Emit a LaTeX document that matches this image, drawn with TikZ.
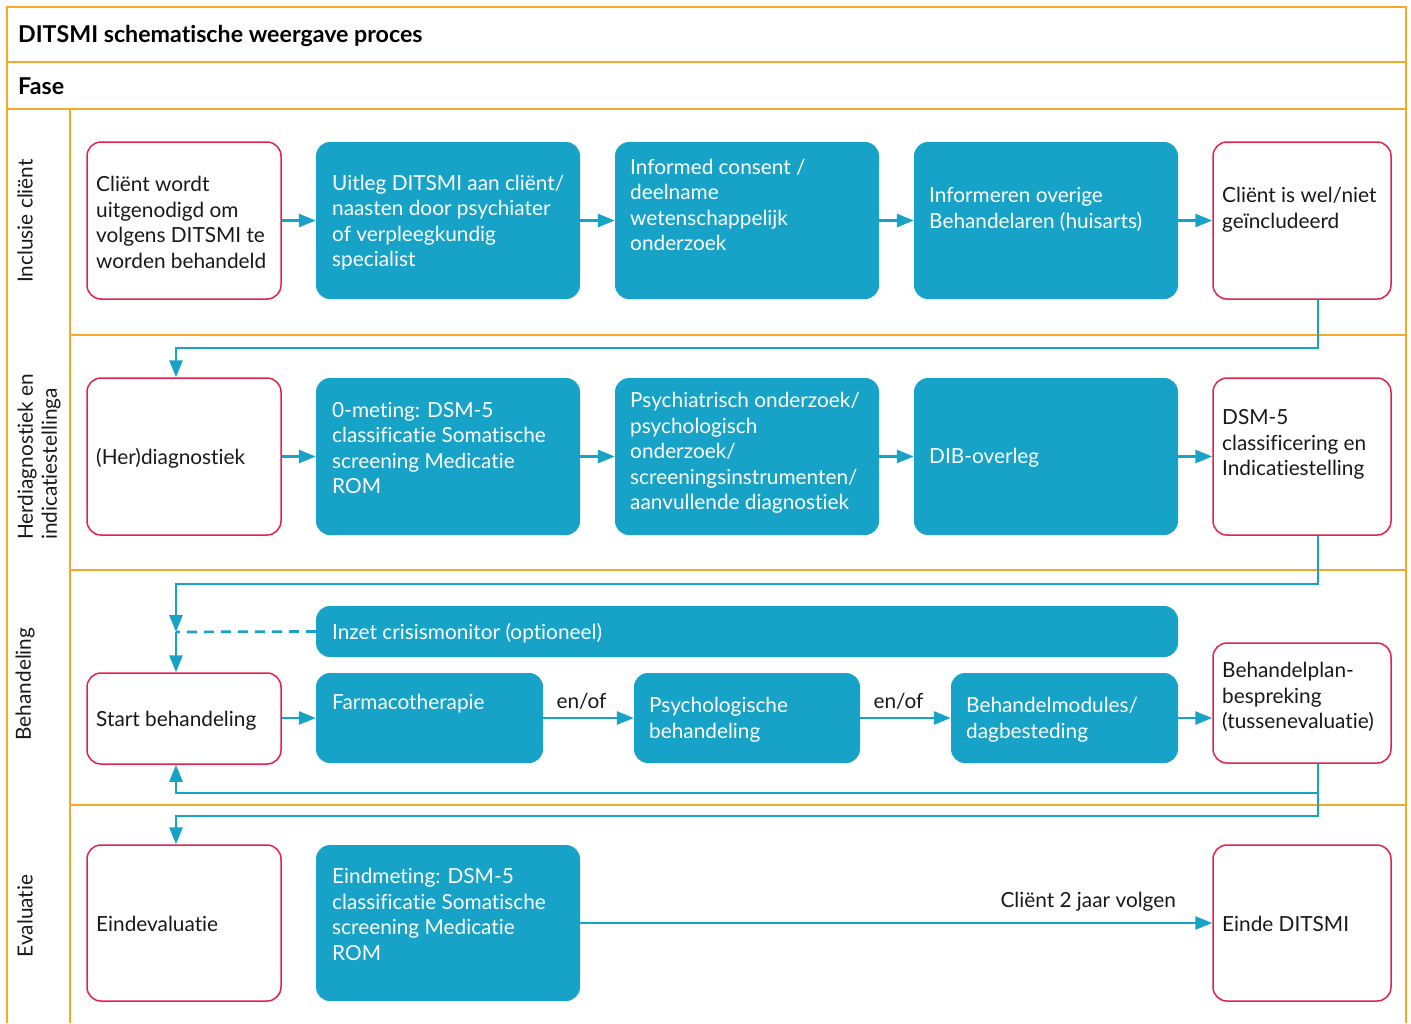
\documentclass[tikz,border=0pt]{standalone}
\usepackage{fontspec}
\setmainfont{Lato}[Ligatures={NoCommon}]
\usetikzlibrary{arrows.meta}
\definecolor{orl}{RGB}{246,168,40}
\definecolor{bl}{RGB}{23,162,200}
\definecolor{rd}{RGB}{228,32,76}
\definecolor{tx}{RGB}{25,25,25}
\begin{document}
\begin{tikzpicture}[x=1pt,y=-1pt,
 redbox/.style={draw=rd, line width=1.5pt, rounded corners=14pt, fill=white, inner sep=0pt},
 bluebox/.style={fill=bl, rounded corners=14pt, inner sep=0pt},
 txt/.style={font=\fontsize{20.8}{25.5}\selectfont, align=left, anchor=west, inner sep=0pt, text=tx},
 wtxt/.style={txt, text=white},
 conn/.style={draw=bl, line width=2.7pt, -{Triangle[length=17pt,width=13pt]}},
 cline/.style={draw=bl, line width=2.7pt},
 frame/.style={draw=orl, line width=1.3pt},
 phase/.style={font=\fontsize{20.8}{24}\selectfont, rotate=90, inner sep=0pt, text=tx, align=left},
 head/.style={font=\bfseries\fontsize{23.2}{26}\selectfont, anchor=west, inner sep=0pt, text=black}]
\useasboundingbox (0,0) rectangle (1411,1023);
% frame
\draw[frame] (7,1023) -- (7,7) -- (1406,7) -- (1406,1023);
\draw[frame] (7,62) -- (1406,62);
\draw[frame] (7,109) -- (1406,109);
\draw[frame] (70,109) -- (70,1023);
\draw[frame] (70,335) -- (1406,335);
\draw[frame] (70,570) -- (1406,570);
\draw[frame] (70,805) -- (1406,805);
\node[head] (title) at (18,36) {DITSMI schematische weergave proces};
\node[head] (fase) at (18,86) {Fase};
% phase labels
\node[phase] (p1) at (25,221) {Inclusie cliënt};
\node[phase] (p2) at (39,457) {Herdiagnostiek en\\indicatiestellinga};
\node[phase] (p3l) at (25,684) {Behandeling};
\node[phase] (p4) at (25,916) {Evaluatie};
% row 1
\node[redbox, minimum width=194pt, minimum height=157pt] (a1) at (184,220.5) {};
\node[bluebox, minimum width=264pt, minimum height=157pt] (b1) at (448,220.5) {};
\node[bluebox, minimum width=264pt, minimum height=157pt] (c1) at (747,220.5) {};
\node[bluebox, minimum width=264pt, minimum height=157pt] (d1) at (1046,220.5) {};
\node[redbox, minimum width=178pt, minimum height=157pt] (e1) at (1302,220.5) {};
\node[txt] (ta1) at (96,222.5) {Cliënt wordt\\uitgenodigd om\\volgens DITSMI te\\worden behandeld};
\node[wtxt] (tb1) at (332,222.5) {Uitleg DITSMI aan cliënt/\\naasten door psychiater\\of verpleegkundig\\specialist};
\node[wtxt] (tc1) at (630,205) {Informed consent /\\deelname\\wetenschappelijk\\onderzoek};
\node[wtxt] (td1) at (929,209.5) {Informeren overige\\Behandelaren (huisarts)};
\node[txt] (te1) at (1222,209.5) {Cliënt is wel/niet\\geïncludeerd};
% row 2
\node[redbox, minimum width=194pt, minimum height=157pt] (a2) at (184,456.5) {};
\node[bluebox, minimum width=264pt, minimum height=157pt] (b2) at (448,456.5) {};
\node[bluebox, minimum width=264pt, minimum height=157pt] (c2) at (747,456.5) {};
\node[bluebox, minimum width=264pt, minimum height=157pt] (d2) at (1046,456.5) {};
\node[redbox, minimum width=178pt, minimum height=157pt] (e2) at (1302,456.5) {};
\node[txt] (ta2) at (96,458) {(Her)diagnostiek};
\node[wtxt] (tb2) at (332,448) {0-meting: DSM-5\\classificatie Somatische\\screening Medicatie\\ROM};
\node[wtxt] (tc2) at (630,453) {Psychiatrisch onderzoek/\\psychologisch\\onderzoek/\\screeningsinstrumenten/\\aanvullende diagnostiek};
\node[wtxt] (td2) at (929,458) {DIB-overleg};
\node[txt] (te2) at (1222,444.5) {DSM-5\\classificering en\\Indicatiestelling};
% row 3
\node[bluebox, minimum width=862pt, minimum height=51pt] (cr) at (747,631.5) {};
\node[wtxt] (tcr) at (332,633) {Inzet crisismonitor (optioneel)};
\node[redbox, minimum width=194pt, minimum height=91pt] (s3) at (184,718.5) {};
\node[bluebox, minimum width=227pt, minimum height=90pt] (f3) at (429.5,718) {};
\node[bluebox, minimum width=226pt, minimum height=90pt] (g3) at (747,718) {};
\node[bluebox, minimum width=227pt, minimum height=90pt] (h3b) at (1064.5,718) {};
\node[redbox, minimum width=178pt, minimum height=120pt] (p3) at (1302,703) {};
\node[txt] (ts3) at (96,721) {Start behandeling};
\node[wtxt] (tf3) at (332,704) {Farmacotherapie};
\node[wtxt] (tg3) at (649,719.5) {Psychologische\\behandeling};
\node[wtxt] (th3) at (966,719.5) {Behandelmodules/\\dagbesteding};
\node[txt] (tp3) at (1222,697) {Behandelplan-\\bespreking\\(tussenevaluatie)};
% row 4
\node[redbox, minimum width=194pt, minimum height=156pt] (a4) at (184,923) {};
\node[bluebox, minimum width=264pt, minimum height=156pt] (b4) at (448,923) {};
\node[redbox, minimum width=178pt, minimum height=156pt] (e4) at (1302,923) {};
\node[txt] (ta4) at (96,924) {Eindevaluatie};
\node[wtxt] (tb4) at (332,914.5) {Eindmeting: DSM-5\\classificatie Somatische\\screening Medicatie\\ROM};
\node[txt] (te4) at (1222,924) {Einde DITSMI};
% horizontal arrows
\draw[conn] (a1) -- (b1);
\draw[conn] (b1) -- (c1);
\draw[conn] (c1) -- (d1);
\draw[conn] (d1) -- (e1);
\draw[conn] (a2) -- (b2);
\draw[conn] (b2) -- (c2);
\draw[conn] (c2) -- (d2);
\draw[conn] (d2) -- (e2);
\draw[conn] (s3.east |- f3.west) -- (f3.west);
\draw[conn] (f3) -- node[txt, anchor=south, yshift=7pt, xshift=-7pt] (eo1) {en/of} (g3);
\draw[conn] (g3) -- node[txt, anchor=south, yshift=7pt, xshift=-7pt] (eo2) {en/of} (h3b);
\draw[conn] (h3b.east) -- (h3b.east -| p3.west);
\draw[conn] (b4.east |- e4.west) -- node[pos=1, txt, anchor=south east, yshift=10pt, xshift=-35pt] (cl) {Cliënt 2 jaar volgen} (e4.west);
% bends
\coordinate (v1) at (1318,348); \coordinate (j1) at (176,348);
\draw[conn] (e1.south -| v1) -- (v1) -- (j1) -- (j1 |- a2.north);
\coordinate (v2) at (1318,584); \coordinate (j2) at (176,584); \coordinate (jc) at (176,632);
\draw[conn] (e2.south -| v2) -- (v2) -- (j2) -- (jc);
\draw[conn] (jc) -- (jc |- s3.north);
\draw[cline, dash pattern=on 10pt off 7pt] (cr.west) -- (jc);
\coordinate (v3) at (1318,793); \coordinate (j3) at (176,793);
\draw[conn] (p3.south -| v3) -- (v3) -- (j3) -- (j3 |- s3.south);
\coordinate (v4) at (1318,816); \coordinate (j4) at (176,816);
\draw[conn] (p3.south -| v4) -- (v4) -- (j4) -- (j4 |- a4.north);
\end{tikzpicture}
\end{document}
